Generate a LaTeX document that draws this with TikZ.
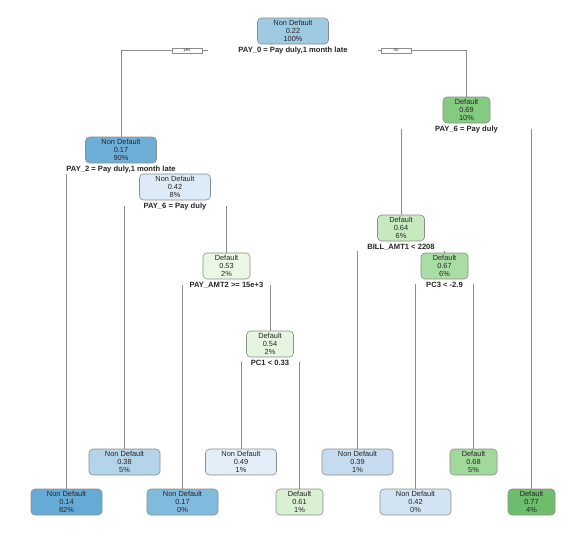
\documentclass[tikz,border=0pt]{standalone}
\usepackage{fontspec}
\setmainfont{Liberation Sans}
\usetikzlibrary{positioning,backgrounds}
\usepackage{xcolor}

% fill shades, blue = Non Default, green = Default
\definecolor{bl14}{HTML}{66ABD7}
\definecolor{bl17}{HTML}{6EAFD8}
\definecolor{bl17b}{HTML}{80BADD}
\definecolor{bl22}{HTML}{9ECAE2}
\definecolor{bl38}{HTML}{B4D4EA}
\definecolor{bl39}{HTML}{C6DBEF}
\definecolor{bl42}{HTML}{DDEAF7}
\definecolor{bl42b}{HTML}{D2E3F3}
\definecolor{bl49}{HTML}{E2EDF8}
\definecolor{gr53}{HTML}{EAF7E5}
\definecolor{gr54}{HTML}{E5F5E0}
\definecolor{gr61}{HTML}{D9F0D3}
\definecolor{gr64}{HTML}{C7E9C0}
\definecolor{gr67}{HTML}{AADDA3}
\definecolor{gr68}{HTML}{A1D99B}
\definecolor{gr69}{HTML}{84CA80}
\definecolor{gr77}{HTML}{6CBE6C}
\definecolor{edge}{HTML}{8C8C8C}

\begin{document}
\begin{tikzpicture}[
    x=1pt,y=-1pt,
    every node/.style={font=\fontsize{7.4}{8}\selectfont,text=black!85},
    tbox/.style={draw=edge,line width=0.6pt,rounded corners=4pt,minimum height=26pt,align=center,inner sep=1pt},
    nondef/.style={tbox,minimum width=71pt},
    dflt/.style={tbox,minimum width=47pt},
    split/.style={font=\fontsize{7.6}{8}\selectfont\bfseries,fill=white,inner ysep=1pt,inner xsep=2pt,below=1.2pt of #1},
    branch/.style={draw=edge,line width=0.5pt},
    yesno/.style={draw=edge,fill=white,line width=0.4pt,minimum width=30pt,minimum height=5pt,inner sep=0pt,font=\fontsize{4.5}{4.5}\selectfont\itshape},
]
\useasboundingbox (0,0) rectangle (588,542);

% root
\node[nondef,fill=bl22] (n1) at (293,31) {Non Default\\0.22\\100\%};
\node[split=n1,inner xsep=29pt] (s1) {PAY\_0 = Pay duly,1 month late};

% left branch
\node[nondef,fill=bl17] (n2) at (121,150) {Non Default\\0.17\\90\%};
\node[split=n2] (s2) {PAY\_2 = Pay duly,1 month late};
\node[nondef,fill=bl42] (n5) at (175,187) {Non Default\\0.42\\8\%};
\node[split=n5,inner xsep=18pt] (s5) {PAY\_6 = Pay duly};
\node[dflt,fill=gr53] (n11) at (226.5,266) {Default\\0.53\\2\%};
\node[split=n11] (s11) {PAY\_AMT2 >= 15e+3};
\node[dflt,fill=gr54] (n23) at (270,344) {Default\\0.54\\2\%};
\node[split=n23] (s23) {PC1 < 0.33};

% right branch
\node[dflt,fill=gr69] (n3) at (466.5,110) {Default\\0.69\\10\%};
\node[split=n3,inner xsep=20pt] (s3) {PAY\_6 = Pay duly};
\node[dflt,fill=gr64] (n6) at (401,228) {Default\\0.64\\6\%};
\node[split=n6,inner xsep=10pt] (s6) {BILL\_AMT1 < 2208};
\node[dflt,fill=gr67] (n13) at (444.5,266) {Default\\0.67\\6\%};
\node[split=n13] (s13) {PC3 < -2.9};

% leaves, upper row
\node[nondef,fill=bl38] (n10) at (124.5,462) {Non Default\\0.38\\5\%};
\node[nondef,fill=bl49] (n46) at (241,462) {Non Default\\0.49\\1\%};
\node[nondef,fill=bl39] (n12) at (357.5,462) {Non Default\\0.39\\1\%};
\node[dflt,fill=gr68] (n27) at (473.5,462) {Default\\0.68\\5\%};

% leaves, lower row
\node[nondef,fill=bl14] (n4) at (66.5,502) {Non Default\\0.14\\82\%};
\node[nondef,fill=bl17b] (n22) at (182.5,502) {Non Default\\0.17\\0\%};
\node[dflt,fill=gr61] (n47) at (299.5,502) {Default\\0.61\\1\%};
\node[nondef,fill=bl42b] (n26) at (415.5,502) {Non Default\\0.42\\0\%};
\node[dflt,fill=gr77] (n7) at (531.5,502) {Default\\0.77\\4\%};

% branches, behind the split labels
\coordinate (r0l) at (208,50);
\coordinate (r0r) at (378,50);
\begin{scope}[on background layer]
\draw[branch] (r0l) -| (n2.north);
\draw[branch] (r0r) -| (n3.north);
\draw[branch] (n4.north |- s2.center)  -- (n4.north);
\draw[branch] (n5.north |- s2.center)  -- (n5.north);
\draw[branch] (n10.north |- s5.center) -- (n10.north);
\draw[branch] (n11.north |- s5.center) -- (n11.north);
\draw[branch] (n22.north |- s11.center) -- (n22.north);
\draw[branch] (n23.north |- s11.center) -- (n23.north);
\draw[branch] (n46.north |- s23.center) -- (n46.north);
\draw[branch] (n47.north |- s23.center) -- (n47.north);
\draw[branch] (n6.north |- s3.center)  -- (n6.north);
\draw[branch] (n7.north |- s3.center)  -- (n7.north);
\draw[branch] (n12.north |- s6.center) -- (n12.north);
\draw[branch] (n13.north |- s6.center) -- (n13.north);
\draw[branch] (n26.north |- s13.center) -- (n26.north);
\draw[branch] (n27.north |- s13.center) -- (n27.north);
\end{scope}

% yes / no tags on the root split
\node[yesno] (yes) at (187,50.5) {yes};
\node[yesno] (no) at (396,50.5) {no};
\end{tikzpicture}
\end{document}
